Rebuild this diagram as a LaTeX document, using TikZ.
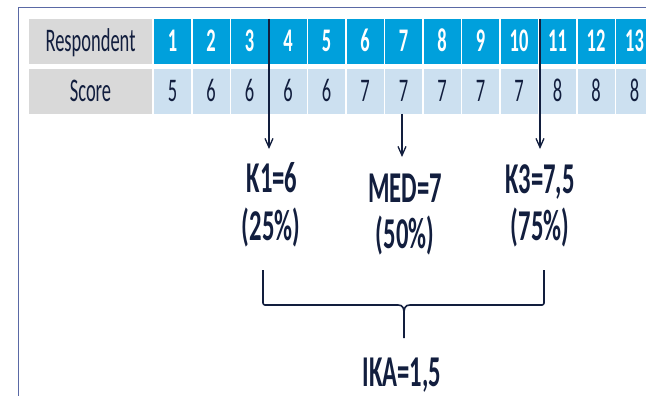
\documentclass[tikz,border=0pt]{standalone}
\usepackage{fontspec}
\setmainfont{Carlito}[FakeStretch=0.56]
\usetikzlibrary{arrows.meta}
\definecolor{hdrblue}{RGB}{0,160,220}
\definecolor{scoreblue}{RGB}{204,224,240}
\definecolor{labelgray}{RGB}{217,217,217}
\definecolor{navy}{RGB}{18,30,62}
\definecolor{framec}{RGB}{90,105,165}
\begin{document}
\begin{tikzpicture}[x=1pt,y=-1pt,
  cell/.style={minimum height=45pt, inner sep=0pt, text height=20pt, text depth=0pt, font=\fontsize{33}{36}\selectfont},
  lab/.style={cell, fill=labelgray, minimum width=123pt, text=navy},
  hdr/.style={cell, fill=hdrblue, minimum width=37pt, text=white, font=\fontsize{33}{36}\selectfont\bfseries},
  scr/.style={cell, fill=scoreblue, minimum width=37pt, text=navy},
  big/.style={font=\fontsize{44}{48}\selectfont\bfseries, text=navy, inner sep=0pt, anchor=base},
  arr/.style={draw=navy, line width=1.3pt, -{Straight Barb[length=9pt,width=8pt]}},
  bracestyle/.style={draw=navy, line width=1.6pt, line join=round}]
\useasboundingbox (0,0) rectangle (646,396);
\clip (0,0) rectangle (646,396);
\fill[white] (0,0) rectangle (646,396);
% frame
\draw[framec, line width=1pt] (18,400) -- (18,8) -- (650,8);
% table
\node[lab] (resp) at (90.5,41.5) {Respondent};
\node[lab] (scorelab) at (90.5,91.5) {Score};
\foreach \i/\s in {1/5,2/6,3/6,4/6,5/6,6/7,7/7,8/7,9/7,10/7,11/8,12/8,13/8} {
  \node[hdr] (h\i) at ({154+38.5*(\i-1)+18.5},41.5) {\i};
  \node[scr] (s\i) at ({154+38.5*(\i-1)+18.5},91.5) {\s};
}
% arrows
\coordinate (a1s) at (269,19);
\coordinate (a1e) at (269,149);
\coordinate (a2s) at (402,114);
\coordinate (a2e) at (402,157);
\coordinate (a3s) at (540,19);
\coordinate (a3e) at (540,149);
\draw[arr] (a1s) -- (a1e);
\draw[arr] (a2s) -- (a2e);
\draw[arr] (a3s) -- (a3e);
% labels
\node[big] (k1a) at (272,192) {K1=6};
\node[big] (k1b) at (271,240) {(25\%)};
\node[big] (meda) at (405,202) {MED=7};
\node[big] (medb) at (405,248) {(50\%)};
\node[big] (k3a) at (540,193) {K3=7,5};
\node[big] (k3b) at (540,240) {(75\%)};
\node[big] (ika) at (402,386) {IKA=1,5};
% brace
\coordinate (bl) at (263,270);
\coordinate (br) at (544,270);
\coordinate (bt) at (404,338);
\draw[bracestyle, rounded corners=2pt] (bl) -- (263,305) -- (398,305);
\draw[bracestyle, rounded corners=2pt] (br) -- (544,305) -- (410,305);
\draw[bracestyle] (398,305) .. controls (403,305) and (404,308) .. (404,314) -- (bt);
\draw[bracestyle] (410,305) .. controls (405,305) and (404,308) .. (404,314);
\end{tikzpicture}
\end{document}
